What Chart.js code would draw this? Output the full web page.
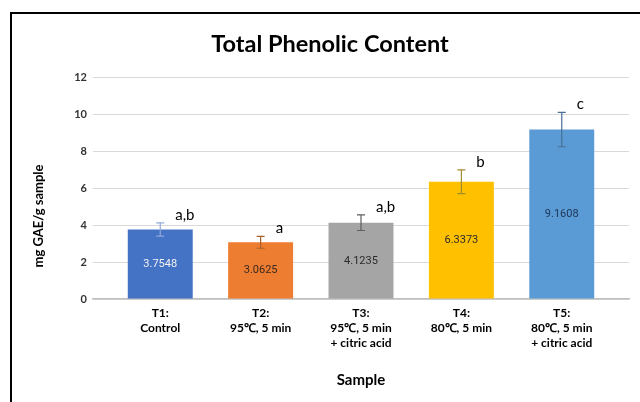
<!DOCTYPE html>
<html>
<head>
<meta charset="utf-8">
<title>Total Phenolic Content</title>
<script src="https://cdn.jsdelivr.net/npm/chart.js@4.4.1/dist/chart.umd.min.js"></script>
<style>
  html, body { margin: 0; padding: 0; background: #ffffff; }
  #wrap { width: 640px; height: 402px; }
</style>
</head>
<body>
<div id="wrap"><canvas id="c" width="640" height="402"></canvas></div>
<script>
// Treatments (multi-line axis labels)
const categories = [
  ['T1:', 'Control'],
  ['T2:', '95℃, 5 min'],
  ['T3:', '95℃, 5 min', '+ citric acid'],
  ['T4:', '80℃, 5 min'],
  ['T5:', '80℃, 5 min', '+ citric acid']
];
// Mean total phenolic content, mg GAE/g sample
const means = [3.7548, 3.0625, 4.1235, 6.3373, 9.1608];
// Standard deviation for each treatment
const errors = [0.36, 0.32, 0.42, 0.64, 0.93];
// Significance groups
const groups = ['a,b', 'a', 'a,b', 'b', 'c'];
// Value axis ticks
const yTicks = [0, 2, 4, 6, 8, 10, 12];

// Styling
const barColors = ['#4472C4', '#ED7D31', '#A5A5A5', '#FFC000', '#5B9BD5'];
const errColors = ['#8EA9DB', '#A9612A', '#5F5F5F', '#A38B2E', '#4A6F95'];
const valueColors = ['#F2F2F2', '#3A2A20', '#2B2B2B', '#2B2B2B', '#1F3556'];
const FONT = 'Lato, "Open Sans", sans-serif';

const decorations = {
  id: 'decorations',
  afterDatasetsDraw(chart) {
    const ctx = chart.ctx;
    const xs = chart.scales.x, ys = chart.scales.y;
    ctx.save();
    means.forEach((m, i) => {
      const x = xs.getPixelForValue(i + 1);
      const yHi = ys.getPixelForValue(m + errors[i]);
      const yLo = ys.getPixelForValue(m - errors[i]);
      // error bar
      ctx.strokeStyle = errColors[i];
      ctx.lineWidth = 1.2;
      ctx.beginPath();
      ctx.moveTo(x, yHi); ctx.lineTo(x, yLo);
      ctx.moveTo(x - 4, yHi); ctx.lineTo(x + 4, yHi);
      ctx.moveTo(x - 4, yLo); ctx.lineTo(x + 4, yLo);
      ctx.stroke();
      // value inside the bar
      const yMid = ys.getPixelForValue(m / 2);
      ctx.fillStyle = valueColors[i];
      ctx.font = '11px Roboto, sans-serif';
      ctx.textAlign = 'center';
      ctx.textBaseline = 'middle';
      ctx.fillText(m.toFixed(4), x, yMid);
      // significance letter
      ctx.fillStyle = '#000000';
      ctx.font = '15px ' + FONT;
      ctx.textAlign = 'left';
      ctx.textBaseline = 'alphabetic';
      ctx.fillText(groups[i], x + 15, yHi - 3);
    });
    ctx.restore();
  },
  afterDraw(chart) {
    const ctx = chart.ctx;
    ctx.save();
    // y axis title
    ctx.translate(39, 216);
    ctx.rotate(-Math.PI / 2);
    ctx.fillStyle = '#000000';
    ctx.font = 'bold 13px ' + FONT;
    ctx.textAlign = 'center';
    ctx.textBaseline = 'middle';
    ctx.fillText('mg GAE/g sample', 0, 0);
    ctx.restore();
    // chart frame
    ctx.save();
    ctx.strokeStyle = '#000000';
    ctx.lineWidth = 2;
    ctx.strokeRect(11, 13, 700, 500);
    ctx.restore();
  }
};

new Chart(document.getElementById('c'), {
  type: 'bar',
  data: {
    datasets: [{
      data: means.map((v, i) => ({ x: i + 1, y: v })),
      backgroundColor: barColors,
      categoryPercentage: 1,
      barPercentage: 0.647
    }]
  },
  options: {
    responsive: false,
    animation: false,
    devicePixelRatio: 1,
    layout: { padding: { left: 31, right: 11, top: 0, bottom: 0 } },
    plugins: {
      legend: { display: false },
      tooltip: { enabled: false },
      title: {
        display: true,
        text: 'Total Phenolic Content',
        color: '#000000',
        font: { family: FONT, size: 23.5, weight: 'bold', lineHeight: 1.2 },
        padding: { top: 29.9, bottom: 18.9 }
      }
    },
    scales: {
      x: {
        type: 'linear',
        offset: false,
        min: 0.33,
        max: 5.67,
        afterBuildTicks(s) { s.ticks = categories.map((_, i) => ({ value: i + 1 })); },
        afterFit(s) { s.height = 103; },
        grid: { display: false, drawTicks: false, offset: false },
        border: { display: true, color: '#BFBFBF', width: 1.5 },
        ticks: {
          autoSkip: false,
          maxRotation: 0,
          padding: 6.5,
          color: '#000000',
          font: { family: FONT, size: 12, weight: 'bold', lineHeight: 1.25 },
          callback: (v) => categories[Math.round(v) - 1] || ''
        },
        title: {
          display: true,
          text: 'Sample',
          color: '#000000',
          font: { family: FONT, size: 15, weight: 'bold', lineHeight: 1.2 },
          padding: { top: 0, bottom: 13 }
        }
      },
      y: {
        min: 0,
        max: 12,
        afterBuildTicks(s) { s.ticks = yTicks.map(v => ({ value: v })); },
        afterFit(s) { s.width = 62; },
        grid: { color: '#D9D9D9', lineWidth: 1, drawTicks: false },
        border: { display: false },
        ticks: {
          padding: 6,
          color: '#333333',
          font: { family: FONT, size: 11, weight: 'bold' }
        }
      }
    }
  },
  plugins: [decorations]
});
</script>
</body>
</html>
